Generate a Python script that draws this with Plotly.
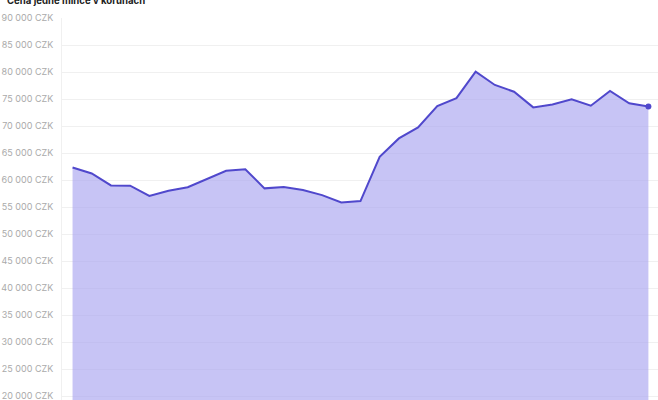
import plotly.graph_objects as go

# Cena jedné mince v korunách, 31 měření
mesic = list(range(31))
cena_czk = [62300, 61200, 59000, 58950, 57050, 58000, 58650, 60100, 61700, 62000,
            58450, 58700, 58150, 57200, 55850, 56100, 64300, 67700, 69750, 73700,
            75150, 80050, 77600, 76350, 73450, 74000, 74950, 73750, 76500, 74200,
            73600]
tick_vals = list(range(20000, 90001, 5000))
tick_text = [f"{v // 1000} 000 CZK" for v in tick_vals]

line_color = '#5048cc'
fill_color = 'rgba(172, 168, 240, 0.68)'

fig = go.Figure()
fig.add_trace(go.Scatter(
    x=mesic, y=cena_czk,
    mode='lines',
    line=dict(color=line_color, width=2),
    fill='tozeroy',
    fillcolor=fill_color,
    hoverinfo='y'
))
# tečka na posledním bodu
fig.add_trace(go.Scatter(
    x=[mesic[-1]], y=[cena_czk[-1]],
    mode='markers',
    marker=dict(color=line_color, size=6),
    cliponaxis=False,
    hoverinfo='skip'
))

# nadpis je v originále useknutý horním okrajem
fig.add_annotation(
    text='<b>Cena jedné mince v korunách</b>',
    xref='paper', x=0, xshift=-57, xanchor='left',
    yref='paper', y=1, yshift=18, yanchor='middle',
    showarrow=False,
    font=dict(family='Inter', size=9.6, color='#222222')
)

fig.update_layout(
    width=658, height=400,
    margin=dict(l=62, r=0, t=18, b=0),
    paper_bgcolor='white',
    plot_bgcolor='white',
    showlegend=False,
    font=dict(family='Inter')
)
fig.update_xaxes(
    range=[-0.55, 30.5],
    showgrid=False, showticklabels=False, zeroline=False, ticks='',
    automargin=False
)
fig.update_yaxes(
    range=[19260, 90000],
    tickvals=tick_vals, ticktext=tick_text,
    tickfont=dict(size=9, color='#aaaaaa'),
    showgrid=True, gridcolor='#f0f0f0', gridwidth=1,
    showline=True, linecolor='#f0f0f0',
    zeroline=False, ticks='', ticklabelstandoff=6,
    ticklabeloverflow='allow',
    automargin=False
)

# bez okraje stránky, aby graf začínal v rohu okna
fig.write_html("out.html", config={'displayModeBar': False},
               post_script="document.body.style.margin='0';")
